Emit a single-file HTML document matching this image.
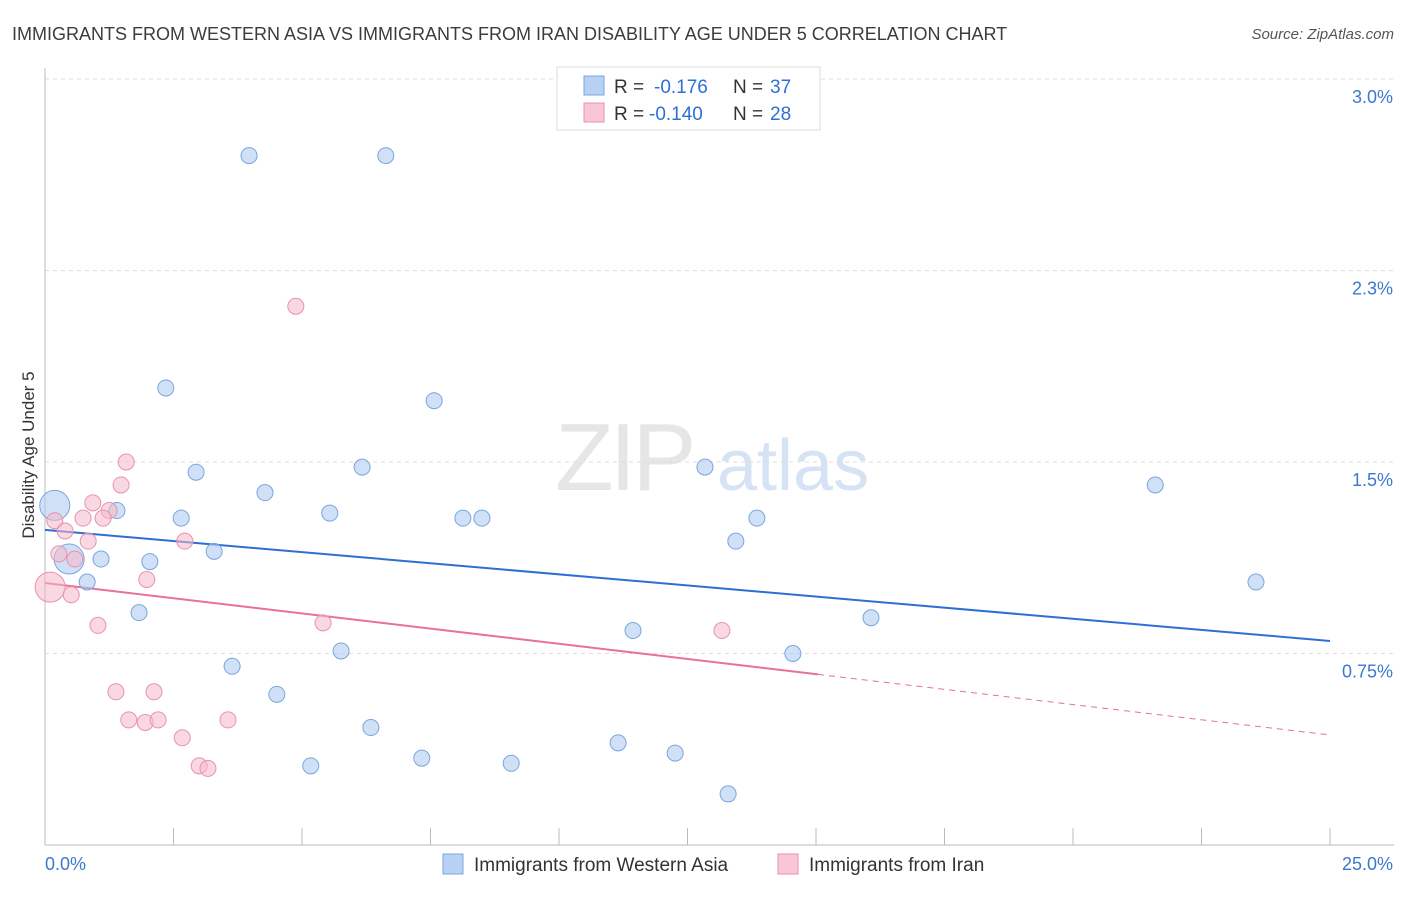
<!DOCTYPE html>
<html><head><meta charset="utf-8"><style>
body{margin:0;background:#fff;font-family:"Liberation Sans",sans-serif}
svg text{font-family:"Liberation Sans",sans-serif}
</style></head><body>
<svg id="chart" width="1406" height="892" viewBox="0 0 1406 892" xmlns="http://www.w3.org/2000/svg">
<text x="12" y="40" font-size="18" fill="#3c3c3c">IMMIGRANTS FROM WESTERN ASIA VS IMMIGRANTS FROM IRAN DISABILITY AGE UNDER 5 CORRELATION CHART</text>
<text x="1394" y="39" font-size="15" fill="#555" font-style="italic" text-anchor="end">Source: ZipAtlas.com</text>
<g>
<text x="555" y="490" font-size="96" fill="#e6e6e6" font-family="Liberation Serif" letter-spacing="-4">ZIP</text>
<text x="717" y="490" font-size="72" fill="#d5e3f5">atlas</text>
</g>
<g id="grid"></g>
<g id="axes"></g>
<g id="trends"></g>
<g id="points"></g>
<text transform="translate(34,455) rotate(-90)" font-size="17" fill="#333" text-anchor="middle">Disability Age Under 5</text>
<g>
<rect x="557" y="67" width="263" height="63" fill="#fff" stroke="#ddd"/>
<rect x="584" y="76" width="20" height="19" fill="#b7d1f3" stroke="#7aa5dd"/>
<text x="614" y="93" font-size="19" fill="#333">R = </text><text x="654" y="93" font-size="19" fill="#2e6fd6">-0.176</text>
<text x="733" y="93" font-size="19" fill="#333">N = </text><text x="770" y="93" font-size="19" fill="#2e6fd6">37</text>
<rect x="584" y="103" width="20" height="19" fill="#f8c6d5" stroke="#e892ad"/>
<text x="614" y="120" font-size="19" fill="#333">R = </text><text x="649" y="120" font-size="19" fill="#2e6fd6">-0.140</text>
<text x="733" y="120" font-size="19" fill="#333">N = </text><text x="770" y="120" font-size="19" fill="#2e6fd6">28</text>
</g>
<g>
<rect x="443" y="854" width="20" height="20" fill="#b7d1f3" stroke="#7aa5dd"/>
<text x="474" y="871" font-size="19" fill="#333">Immigrants from Western Asia</text>
<rect x="778" y="854" width="20" height="20" fill="#f8c6d5" stroke="#e892ad"/>
<text x="809" y="871" font-size="19" fill="#333">Immigrants from Iran</text>
</g>
</svg>
<script>
const yTicks=[0.75,1.5,2.25,3.0];
const yTickLabels=["0.75%","1.5%","2.3%","3.0%"];
const xTicks=[0,2.5,5,7.5,10,12.5,15,17.5,20,22.5,25];
const xEndLabels=["0.0%","25.0%"];
const blueX=[3.97,6.63,2.35,7.57,2.94,6.17,4.28,12.84,21.60,1.40,2.65,5.54,8.13,8.50,13.85,0.19,0.47,1.09,2.04,3.29,13.44,0.82,23.56,1.83,11.44,16.07,3.64,5.76,14.55,4.51,6.34,11.15,12.26,7.33,5.17,9.07,13.29];
const blueY=[2.70,2.70,1.79,1.74,1.46,1.48,1.38,1.48,1.41,1.31,1.28,1.30,1.28,1.28,1.28,1.33,1.12,1.12,1.11,1.15,1.19,1.03,1.03,0.91,0.84,0.89,0.70,0.76,0.75,0.59,0.46,0.40,0.36,0.34,0.31,0.32,0.20];
const blueBig=[15,16];
const pinkX=[4.88,1.58,1.48,0.93,0.19,0.39,1.25,1.13,0.74,0.84,2.72,0.27,0.58,1.98,0.10,0.51,1.03,5.41,13.17,1.38,2.12,1.63,1.95,2.20,3.56,2.67,3.00,3.17];
const pinkY=[2.11,1.50,1.41,1.34,1.27,1.23,1.31,1.28,1.28,1.19,1.19,1.14,1.12,1.04,1.01,0.98,0.86,0.87,0.84,0.60,0.60,0.49,0.48,0.49,0.49,0.42,0.31,0.30];
const pinkBig=[14];
const blueTrend=[1.234,0.799];
const pinkTrend=[1.026,0.431];
const pinkSolidEnd=15.04;

const NS="http://www.w3.org/2000/svg";
const X0=45,X1=1330,Y0=845,YPER=191.5/0.75;
function sx(v){return X0+(v/25)*(X1-X0);}
function sy(v){return Y0-v*YPER;}
function mk(t,a,p){const e=document.createElementNS(NS,t);for(const k in a)e.setAttribute(k,a[k]);p.appendChild(e);return e;}
const grid=document.getElementById('grid'),axes=document.getElementById('axes'),tr=document.getElementById('trends'),pts=document.getElementById('points');
yTicks.forEach((v,i)=>{
 const l=mk('line',{x1:45,x2:1394,y1:sy(v),y2:sy(v),stroke:'#ddd','stroke-dasharray':'4,4'},grid);
 
 
 const t=mk('text',{x:1393,y:sy(v)+24,'font-size':18,fill:'#3b78d0','text-anchor':'end'},axes);
 t.textContent=yTickLabels[i];
 
 
});
const ax=mk('line',{x1:45,x2:1394,y1:Y0,y2:Y0,stroke:'#bbb'},axes);


const ay=mk('line',{x1:45,x2:45,y1:68,y2:Y0,stroke:'#bbb'},axes);


xTicks.forEach(v=>{
 const t=mk('line',{x1:sx(v),x2:sx(v),y1:828,y2:Y0,stroke:'#bbb'},axes);
 
 
});
const xl0=mk('text',{x:45,y:870,'font-size':18,fill:'#3b78d0'},axes);xl0.textContent=xEndLabels[0];


const xl1=mk('text',{x:1393,y:870,'font-size':18,fill:'#3b78d0','text-anchor':'end'},axes);xl1.textContent=xEndLabels[1];


function draw(xs,ys,big,fill,stroke,name){
 xs.forEach((x,i)=>{
  const c=mk('circle',{cx:sx(x),cy:sy(ys[i]),r:big.includes(i)?15:8,fill:fill,'fill-opacity':0.55,stroke:stroke,'stroke-width':1},pts);
  
  
 });
}
draw(blueX,blueY,blueBig,'#a9c8f0','#7aa5dd','point-western-asia');
draw(pinkX,pinkY,pinkBig,'#f5b8cb','#e892ad','point-iran');
const bl=mk('line',{x1:sx(0),y1:sy(blueTrend[0]),x2:sx(25),y2:sy(blueTrend[1]),stroke:'#2e6fd6','stroke-width':2},tr);


const pm=pinkTrend[0]+(pinkTrend[1]-pinkTrend[0])*pinkSolidEnd/25;
const pl=mk('line',{x1:sx(0),y1:sy(pinkTrend[0]),x2:sx(pinkSolidEnd),y2:sy(pm),stroke:'#e8709a','stroke-width':2},tr);


const pd=mk('line',{x1:sx(pinkSolidEnd),y1:sy(pm),x2:sx(25),y2:sy(pinkTrend[1]),stroke:'#e8709a','stroke-width':1,'stroke-dasharray':'6,5'},tr);


</script>
</body></html>
